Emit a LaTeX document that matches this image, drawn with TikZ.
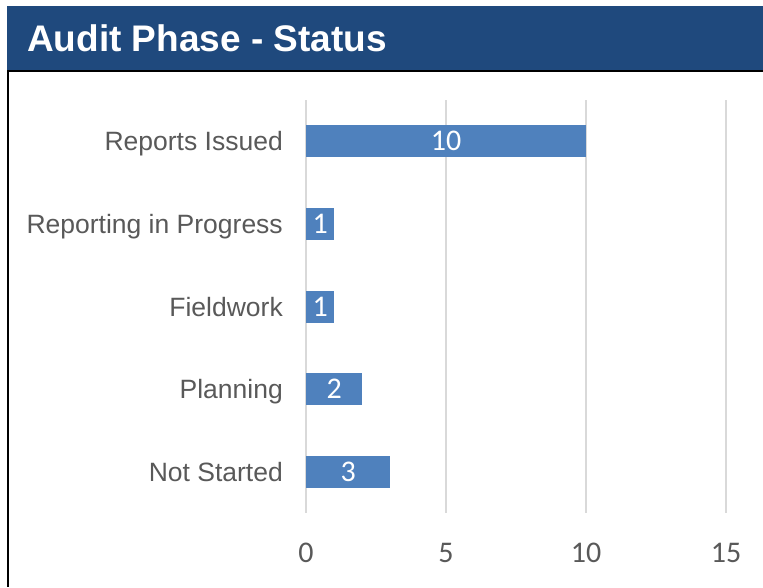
\documentclass[tikz,border=0pt]{standalone}
\usepackage{fontspec}
\setmainfont{Liberation Sans}
\newfontfamily\numfont{Carlito}
\usetikzlibrary{positioning}
\definecolor{titleblue}{HTML}{1F497D}
\definecolor{barblue}{HTML}{4F81BD}
\definecolor{txtgray}{HTML}{595959}
\definecolor{gridgray}{HTML}{D9D9D9}

\begin{document}
\begin{tikzpicture}[x=1pt,y=-1pt,
  cat/.style={anchor=base east,text=txtgray,inner sep=0pt,font=\fontsize{26.5}{30}\selectfont},
  bar/.style={anchor=west,fill=barblue,text=white,inner sep=0pt,minimum height=32pt,
    font=\numfont\fontsize{30}{34}\selectfont},
  tick/.style={text=txtgray,inner sep=0pt,font=\numfont\fontsize{30}{34}\selectfont}]
\useasboundingbox (0,0) rectangle (763,587);
% title bar
\fill[titleblue] (7,6) rectangle (763,71);
\node[anchor=west,text=white,inner sep=0pt,font=\bfseries\fontsize{37}{40}\selectfont] (title) at (27,38) {Audit Phase - Status};
\draw[line width=2pt] (7,71) -- (763,71);
\draw[line width=2pt] (8,71) -- (8,587);
% grid and axis
\foreach \v in {0,5,10,15}{
  \draw[gridgray,line width=2pt] (306+28*\v,100) -- (306+28*\v,513);
  \node[tick] (t\v) at (306+28*\v,553) {\v};
}
% categories
\node[cat] (issued) at (283,150.5) {Reports Issued};
\node[cat] (inprog) at (283,233.5) {Reporting in Progress};
\node[cat] (field) at (283,316.5) {Fieldwork};
\node[cat] (plan) at (283,398.5) {Planning};
\node[cat] (notst) at (283,481.5) {Not Started};
% bars
\node[bar,minimum width=280pt] (b1) at (306,141) {10};
\node[bar,minimum width=28pt] (b2) at (306,224) {1};
\node[bar,minimum width=28pt] (b3) at (306,307) {1};
\node[bar,minimum width=56pt] (b4) at (306,389) {2};
\node[bar,minimum width=84pt] (b5) at (306,472) {3};
\end{tikzpicture}
\end{document}
